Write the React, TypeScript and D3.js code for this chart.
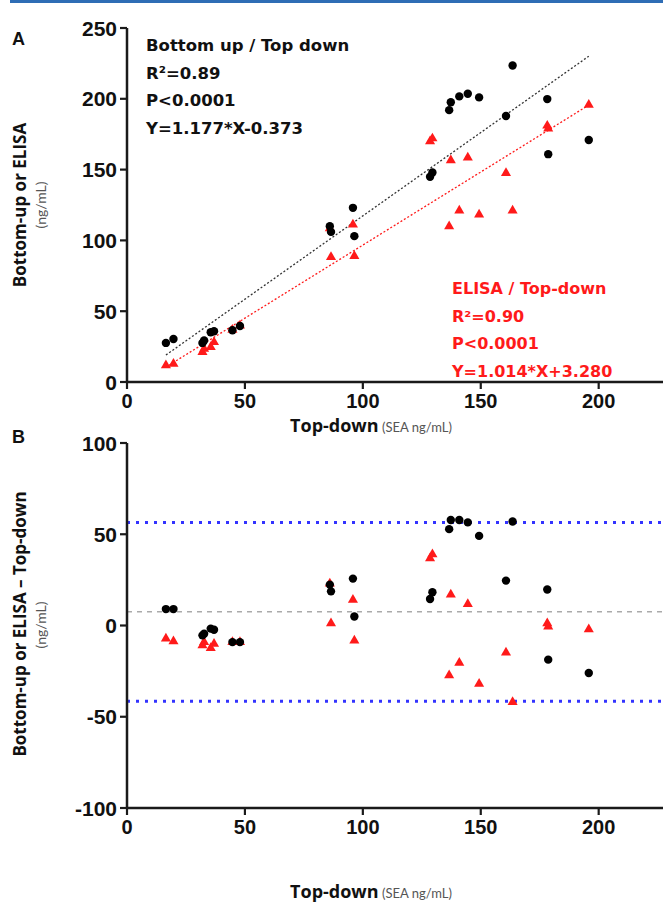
import React from "react";
import * as d3 from "d3";

// ---- data ----
const topDown = [16.5, 19.7, 32.0, 32.7, 35.5, 36.9, 44.7, 47.9, 86.0, 86.5, 95.8, 96.4, 128.5, 129.5, 136.6, 137.3, 140.9, 144.5, 149.3, 160.7, 163.5, 178.2, 178.6, 195.8];
const bottomUp = [27.6, 30.4, 27.6, 29.3, 35.1, 35.8, 36.5, 39.5, 110, 106, 123, 103, 145, 148, 192, 197.6, 201.7, 203.6, 201, 187.9, 223.5, 199.8, 160.9, 170.9];
const elisa = [11.7, 12.9, 21.1, 23.4, 24.6, 28.1, 36.8, 39.8, 108.5, 88.3, 111.2, 89, 170, 172, 110, 156.6, 121, 158.5, 118.3, 147.6, 121, 181, 179, 195.7];
const bottomUpDiff = [9, 9, -5.4, -4.5, -1.7, -2.3, -9.1, -9.1, 22.4, 18.7, 25.7, 4.9, 14.5, 18.2, 52.8, 57.8, 57.8, 56.5, 49.1, 24.6, 57, 19.7, -18.7, -26];
const elisaDiff = [-7.2, -8.7, -10.9, -9.1, -12.4, -10, -9.1, -9.1, 23, 1.2, 14.1, -8.2, 36.8, 39, -27.3, 16.9, -20.5, 11.7, -31.9, -14.8, -42, 1.2, -0.6, -2.1];

const xTicks = [0, 50, 100, 150, 200];
const yTicksA = [0, 50, 100, 150, 200, 250];
const yTicksB = [-100, -50, 0, 50, 100];

const fitBottomUp = [1.177, -0.373]; // slope, intercept
const fitElisa = [1.032, -6.5];
const fitRange = [16.5, 195.8];
const baBias = 7.5;
const baLimits = [56.5, -41.5];

const statsBU = ["Bottom up / Top down", "R²=0.89", "P<0.0001", "Y=1.177*X-0.373"];
const statsEL = ["ELISA / Top-down", "R²=0.90", "P<0.0001", "Y=1.014*X+3.280"];

const W = 663;
const H = 908;
const RED = "#ff1a1a";
const AXIS = "#1a1a1a";
const TICKFONT = "'Liberation Sans', Arial, sans-serif";
const ANNFONT = "'DejaVu Sans', sans-serif";
const TITLEFONT = "'Open Sans', sans-serif";

const x = d3.scaleLinear().domain([0, 226]).range([127, 660]);
const yA = d3.scaleLinear().domain([0, 250]).range([382, 28]);
const yB = d3.scaleLinear().domain([-100, 100]).range([808, 443]);

const tri = d3.symbol().type(d3.symbolTriangle).size(44)() as string;

function Axes({ y, ticks, x0 }: { y: d3.ScaleLinear<number, number>; ticks: number[]; x0: number }) {
  const yBottom = y(ticks[0]);
  const yTop = y(ticks[ticks.length - 1]);
  return (
    <g>
      <line x1={x0} x2={x0} y1={yTop} y2={yBottom} stroke={AXIS} strokeWidth={2.5} />
      <line x1={x0} x2={W} y1={yBottom} y2={yBottom} stroke={AXIS} strokeWidth={2.5} />
      {ticks.map((t) => (
        <g key={"y" + t}>
          <line x1={x0 - 7} x2={x0} y1={y(t)} y2={y(t)} stroke={AXIS} strokeWidth={2.2} />
          <text x={x0 - 10} y={y(t)} dy="0.36em" textAnchor="end" fontFamily={TICKFONT} fontWeight="bold" fontSize={21} fill="#111">
            {t}
          </text>
        </g>
      ))}
      {xTicks.map((t) => (
        <g key={"x" + t}>
          <line x1={x(t)} x2={x(t)} y1={yBottom} y2={yBottom + 7} stroke={AXIS} strokeWidth={2.2} />
          <text x={x(t)} y={yBottom + 26} textAnchor="middle" fontFamily={TICKFONT} fontWeight="bold" fontSize={20} fill="#111">
            {t}
          </text>
        </g>
      ))}
    </g>
  );
}

function XTitle({ yPos }: { yPos: number }) {
  return (
    <text x={371} y={yPos} textAnchor="middle" fontFamily={TITLEFONT}>
      <tspan fontWeight="bold" fontSize={18} fill="#111">Top-down</tspan>
      <tspan fontSize={13} fill="#555" fontFamily="Lato, sans-serif"> (SEA ng/mL)</tspan>
    </text>
  );
}

export default function App() {
  const lineA = d3.line<number>().x((d) => x(d)).y((d) => yA(fitBottomUp[0] * d + fitBottomUp[1]));
  const lineE = d3.line<number>().x((d) => x(d)).y((d) => yA(fitElisa[0] * d + fitElisa[1]));
  return (
    <svg width={W} height={H} style={{ position: "absolute", left: 0, top: 0, background: "#fff" }}>
      <rect x={0} y={0} width={W} height={H} fill="#fff" />
      <rect x={10} y={0} width={W - 10} height={3} fill="#2f6db5" />

      {/* Panel A */}
      <text x={12} y={45} fontFamily={TICKFONT} fontWeight="bold" fontSize={18} fill="#111">A</text>
      <Axes y={yA} ticks={yTicksA} x0={127} />
      <path d={lineA(fitRange) as string} stroke="#333" strokeWidth={1.3} strokeDasharray="2,2" fill="none" />
      <path d={lineE(fitRange) as string} stroke={RED} strokeWidth={1.3} strokeDasharray="2,2" fill="none" />
      {topDown.map((v, i) => (
        <path key={"ea" + i} d={tri} transform={`translate(${x(v)},${yA(elisa[i])})`} fill={RED} />
      ))}
      {topDown.map((v, i) => (
        <circle key={"ba" + i} cx={x(v)} cy={yA(bottomUp[i])} r={4.2} fill="#000" />
      ))}
      {statsBU.map((s, i) => (
        <text key={"sb" + i} x={146} y={51 + i * 27.5} fontFamily={ANNFONT} fontWeight="bold" fontSize={16.5} fill="#111">
          {s}
        </text>
      ))}
      {statsEL.map((s, i) => (
        <text key={"se" + i} x={452} y={294 + i * 27.5} fontFamily={ANNFONT} fontWeight="bold" fontSize={16} fill={RED}>
          {s}
        </text>
      ))}
      <XTitle yPos={432} />
      <g transform="translate(26,205) rotate(-90)">
        <text textAnchor="middle" fontFamily={TITLEFONT} fontWeight="bold" fontSize={17} fill="#111">Bottom-up or ELISA</text>
      </g>
      <g transform="translate(46,205) rotate(-90)">
        <text textAnchor="middle" fontFamily="Lato, sans-serif" fontSize={14} fill="#555">(ng/mL)</text>
      </g>

      {/* Panel B */}
      <text x={12} y={443} fontFamily={TICKFONT} fontWeight="bold" fontSize={18} fill="#111">B</text>
      <line x1={127} x2={W} y1={yB(baBias)} y2={yB(baBias)} stroke="#aaa" strokeWidth={1.5} strokeDasharray="5,5" />
      {baLimits.map((l, i) => (
        <line key={"lim" + i} x1={127} x2={W} y1={yB(l)} y2={yB(l)} stroke="#3333ff" strokeWidth={3} strokeDasharray="3,6" />
      ))}
      <Axes y={yB} ticks={yTicksB} x0={127} />
      {topDown.map((v, i) => (
        <path key={"eb" + i} d={tri} transform={`translate(${x(v)},${yB(elisaDiff[i])})`} fill={RED} />
      ))}
      {topDown.map((v, i) => (
        <circle key={"bb" + i} cx={x(v)} cy={yB(bottomUpDiff[i])} r={4.2} fill="#000" />
      ))}
      <XTitle yPos={898} />
      <g transform="translate(26,624) rotate(-90)">
        <text textAnchor="middle" fontFamily={TITLEFONT} fontWeight="bold" fontSize={17} fill="#111">Bottom-up or ELISA – Top-down</text>
      </g>
      <g transform="translate(46,625) rotate(-90)">
        <text textAnchor="middle" fontFamily="Lato, sans-serif" fontSize={14} fill="#555">(ng/mL)</text>
      </g>
    </svg>
  );
}
